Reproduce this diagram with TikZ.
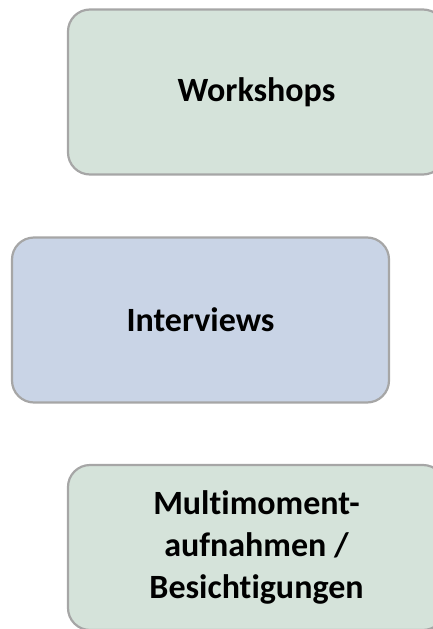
\documentclass[tikz,border=0pt]{standalone}
\usepackage{fontspec}
\setmainfont{Carlito}[Ligatures=NoCommon]
\definecolor{greenfill}{RGB}{213,227,218}
\definecolor{bluefill}{RGB}{201,212,230}
\definecolor{edgegray}{RGB}{166,166,166}
\begin{document}
\begin{tikzpicture}[x=1pt,y=1pt,
  box/.style={draw=edgegray, line width=2.2pt, rounded corners=22pt,
    minimum width=377pt, minimum height=165pt, inner sep=0pt,
    align=center, font=\fontsize{34}{42}\selectfont\bfseries}]
\useasboundingbox (0,0) rectangle (433,-629);
\clip (0,0) rectangle (433,-629);
\node[box, fill=greenfill] (workshops) at (256.5,-92) {Workshops};
\node[box, fill=bluefill] (interviews) at (200.5,-320) {Interviews};
\node[box, fill=greenfill] (mma) at (256.5,-547.5) {Multimoment-\\aufnahmen /\\Besichtigungen};
\end{tikzpicture}
\end{document}
